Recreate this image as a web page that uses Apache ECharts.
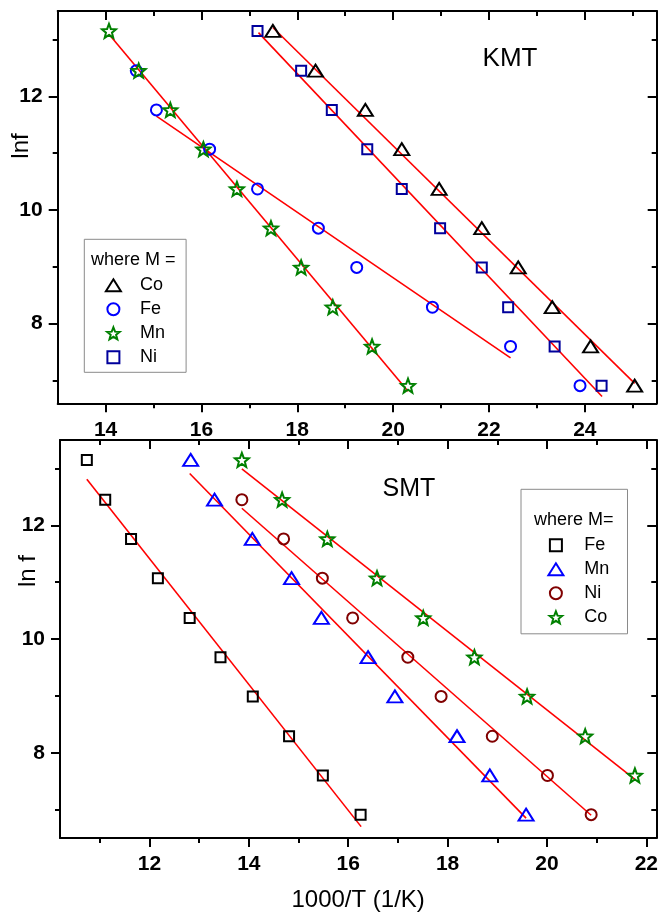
<!DOCTYPE html>
<html>
<head>
<meta charset="utf-8">
<script src="https://cdn.jsdelivr.net/npm/echarts@6/dist/echarts.min.js"></script>
<style>
  html, body { margin: 0; padding: 0; background: #fff; }
  #chart { width: 661px; height: 913px; }
</style>
</head>
<body>
<div id="chart"></div>
<script>
// ---- KMT panel: 1000/T (1/K) against ln f ----
const kmtCoX = [17.49, 18.38, 19.42, 20.18, 20.96, 21.85, 22.61, 23.32, 24.12, 25.04];
const kmtCoY = [13.15, 12.45, 11.76, 11.07, 10.37, 9.68, 8.99, 8.29, 7.60, 6.91];
const kmtFeX = [14.64, 15.06, 16.17, 17.17, 18.44, 19.24, 20.82, 22.45, 23.90];
const kmtFeY = [12.45, 11.76, 11.07, 10.37, 9.68, 8.99, 8.29, 7.60, 6.91];
const kmtMnX = [14.07, 14.69, 15.35, 16.04, 16.74, 17.45, 18.08, 18.74, 19.56, 20.31];
const kmtMnY = [13.15, 12.45, 11.76, 11.07, 10.37, 9.68, 8.99, 8.29, 7.60, 6.91];
const kmtNiX = [17.17, 18.08, 18.72, 19.46, 20.18, 20.98, 21.85, 22.40, 23.37, 24.35];
const kmtNiY = [13.15, 12.45, 11.76, 11.07, 10.37, 9.68, 8.99, 8.29, 7.60, 6.91];

// linear fits, [start, end] as [1000/T, ln f]
const kmtCoFit = [[17.49, 13.21], [25.04, 6.95]];
const kmtFeFit = [[15.06, 11.65], [22.45, 7.40]];
const kmtMnFit = [[14.07, 13.09], [20.31, 6.81]];
const kmtNiFit = [[17.19, 13.12], [24.36, 6.72]];

// ---- SMT panel ----
const smtFeX = [10.74, 11.11, 11.63, 12.17, 12.81, 13.43, 14.08, 14.81, 15.49, 16.25];
const smtFeY = [13.15, 12.45, 11.76, 11.07, 10.37, 9.68, 8.99, 8.29, 7.60, 6.91];
const smtMnX = [12.83, 13.31, 14.07, 14.86, 15.46, 16.40, 16.94, 18.19, 18.85, 19.58];
const smtMnY = [13.15, 12.45, 11.76, 11.07, 10.37, 9.68, 8.99, 8.29, 7.60, 6.91];
const smtNiX = [13.86, 14.70, 15.48, 16.09, 17.20, 17.87, 18.90, 20.01, 20.89];
const smtNiY = [12.45, 11.76, 11.07, 10.37, 9.68, 8.99, 8.29, 7.60, 6.91];
const smtCoX = [13.86, 14.67, 15.58, 16.58, 17.51, 18.54, 19.60, 20.77, 21.77];
const smtCoY = [13.15, 12.45, 11.76, 11.07, 10.37, 9.68, 8.99, 8.29, 7.60];

const smtFeFit = [[10.74, 12.81], [16.26, 6.70]];
const smtMnFit = [[12.81, 12.91], [19.58, 6.85]];
const smtNiFit = [[13.86, 12.30], [20.89, 6.90]];
const smtCoFit = [[13.86, 12.99], [21.77, 7.53]];

// ---- axis ticks ----
const kmtXMajor = [14, 16, 18, 20, 22, 24];
const kmtXMinor = [15, 17, 19, 21, 23, 25];
const smtXMajor = [12, 14, 16, 18, 20, 22];
const smtXMinor = [11, 13, 15, 17, 19, 21];
const yMajor = [8, 10, 12];
const yMinor = [7, 9, 11, 13];

const FONT = "'Liberation Sans', Arial, sans-serif";

const zip = (xs, ys) => xs.map((x, i) => [x, ys[i]]);

// hollow five-pointed star
function starPath() {
  const pts = [];
  for (let i = 0; i < 10; i++) {
    const r = i % 2 === 0 ? 10 : 4.3;
    const a = -Math.PI / 2 + i * Math.PI / 5;
    pts.push((r * Math.cos(a)).toFixed(3) + ' ' + (r * Math.sin(a)).toFixed(3));
  }
  return 'path://M' + pts.join(' L') + ' Z';
}
const STAR = starPath();
const TRI = 'path://M7.5 0 L15 12 L0 12 Z';
const SQUARE = 'path://M0 0 L10 0 L10 10 L0 10 Z';
const CIRCLE = 'circle';

// four axes per side pair: main (labels + long ticks), minor, mirrored main, mirrored minor
function axisSet(gridIndex, dim, min, max, majors, minors) {
  const sides = dim === 'x' ? ['bottom', 'top'] : ['left', 'right'];
  const base = {
    type: 'value', gridIndex, min, max,
    splitLine: { show: false },
    axisPointer: { show: false },
    silent: true
  };
  const line = { show: true, onZero: false, lineStyle: { color: '#000', width: 2 } };
  const tick = (vals, len, inside) => ({
    show: true, inside, length: len, customValues: vals,
    lineStyle: { color: '#000', width: 2 }
  });
  return [
    Object.assign({}, base, {
      position: sides[0], axisLine: line, axisTick: tick(majors, 9, false),
      axisLabel: {
        show: true, customValues: majors, margin: dim === 'x' ? 16 : 15,
        color: '#000', fontSize: 21, fontWeight: 'bold', fontFamily: FONT
      }
    }),
    Object.assign({}, base, {
      position: sides[0], axisLine: { show: false }, axisTick: tick(minors, 5, false),
      axisLabel: { show: false }
    }),
    Object.assign({}, base, {
      position: sides[1], axisLine: line, axisTick: tick(majors, 9, true),
      axisLabel: { show: false }
    }),
    Object.assign({}, base, {
      position: sides[1], axisLine: { show: false }, axisTick: tick(minors, 5, true),
      axisLabel: { show: false }
    })
  ];
}

function marks(name, axis, xs, ys, symbol, size, color) {
  return {
    type: 'scatter', name, xAxisIndex: axis, yAxisIndex: axis,
    data: zip(xs, ys), symbol, symbolSize: size,
    itemStyle: { color: 'rgba(0,0,0,0)', borderColor: color, borderWidth: 2, opacity: 1 },
    z: 3, silent: true
  };
}
function fit(name, axis, pts) {
  return {
    type: 'line', name, xAxisIndex: axis, yAxisIndex: axis,
    data: pts, symbol: 'none', showSymbol: false,
    lineStyle: { color: '#ff0000', width: 1.6 }, z: 2, silent: true
  };
}

const xAxes = [].concat(
  axisSet(0, 'x', 13, 25.5, kmtXMajor, kmtXMinor),
  axisSet(1, 'x', 10.2, 22.2, smtXMajor, smtXMinor)
);
xAxes[4].name = '1000/T (1/K)';
xAxes[4].nameLocation = 'middle';
xAxes[4].nameGap = 50;
xAxes[4].nameTextStyle = { color: '#000', fontSize: 24, fontFamily: FONT };

const yAxes = [].concat(
  axisSet(0, 'y', 6.6, 13.5, yMajor, yMinor),
  axisSet(1, 'y', 6.5, 13.5, yMajor, yMinor)
);

const legendBase = {
  orient: 'vertical', selectedMode: false, symbolKeepAspect: true,
  itemHeight: 12, itemGap: 6,
  borderColor: '#8a8a8a', borderWidth: 1, borderRadius: 0,
  textStyle: { color: '#000', fontSize: 18, fontFamily: FONT },
  formatter: n => n.slice(4)
};

const option = {
  animation: false,
  backgroundColor: '#fff',
  grid: [
    { left: 57.7, top: 11, width: 599, height: 392.3 },
    { left: 60, top: 440, width: 596.7, height: 398.3 }
  ],
  xAxis: xAxes,
  yAxis: yAxes,
  legend: [
    Object.assign({}, legendBase, {
      data: [
        { name: 'KMT Co', icon: TRI },
        { name: 'KMT Fe', icon: CIRCLE },
        { name: 'KMT Mn', icon: STAR },
        { name: 'KMT Ni', icon: SQUARE }
      ],
      left: 84.3, top: 239.3, itemWidth: 43.4,
      padding: [37, 21, 6, 20.6]
    }),
    Object.assign({}, legendBase, {
      data: [
        { name: 'SMT Fe', icon: SQUARE },
        { name: 'SMT Mn', icon: TRI },
        { name: 'SMT Ni', icon: CIRCLE },
        { name: 'SMT Co', icon: STAR }
      ],
      left: 521, top: 489.3, itemWidth: 46.6,
      padding: [47, 18.3, 7.5, 26.4]
    })
  ],
  graphic: [
    { type: 'text', left: 91, top: 251, silent: true,
      style: { text: 'where M =', fill: '#000', font: '18px ' + FONT } },
    { type: 'text', left: 534, top: 511, silent: true,
      style: { text: 'where M=', fill: '#000', font: '18px ' + FONT } },
    { type: 'text', x: 510, y: 59, silent: true,
      style: { text: 'KMT', fill: '#000', font: '26px ' + FONT, align: 'center', verticalAlign: 'middle' } },
    { type: 'text', x: 409, y: 489, silent: true,
      style: { text: 'SMT', fill: '#000', font: '25px ' + FONT, align: 'center', verticalAlign: 'middle' } },
    { type: 'text', x: 21, y: 146, rotation: Math.PI / 2, silent: true,
      style: { text: 'lnf', fill: '#000', font: '24px ' + FONT, align: 'center', verticalAlign: 'middle' } },
    { type: 'text', x: 28, y: 571, rotation: Math.PI / 2, silent: true,
      style: { text: 'ln f', fill: '#000', font: '24px ' + FONT, align: 'center', verticalAlign: 'middle' } }
  ],
  series: [
    fit('KMT Co fit', 0, kmtCoFit),
    fit('KMT Fe fit', 0, kmtFeFit),
    fit('KMT Mn fit', 0, kmtMnFit),
    fit('KMT Ni fit', 0, kmtNiFit),
    marks('KMT Co', 0, kmtCoX, kmtCoY, TRI, [15, 12], '#000000'),
    marks('KMT Fe', 0, kmtFeX, kmtFeY, CIRCLE, 11, '#0000ff'),
    marks('KMT Mn', 0, kmtMnX, kmtMnY, STAR, 14, '#008000'),
    marks('KMT Ni', 0, kmtNiX, kmtNiY, SQUARE, 10, '#00009c'),

    fit('SMT Fe fit', 4, smtFeFit),
    fit('SMT Mn fit', 4, smtMnFit),
    fit('SMT Ni fit', 4, smtNiFit),
    fit('SMT Co fit', 4, smtCoFit),
    marks('SMT Fe', 4, smtFeX, smtFeY, SQUARE, 10, '#000000'),
    marks('SMT Mn', 4, smtMnX, smtMnY, TRI, [15, 12], '#0000ff'),
    marks('SMT Ni', 4, smtNiX, smtNiY, CIRCLE, 11, '#800000'),
    marks('SMT Co', 4, smtCoX, smtCoY, STAR, 14, '#008000')
  ]
};

const chart = echarts.init(document.getElementById('chart'), null, { renderer: 'canvas' });
chart.setOption(option);
</script>
</body>
</html>
